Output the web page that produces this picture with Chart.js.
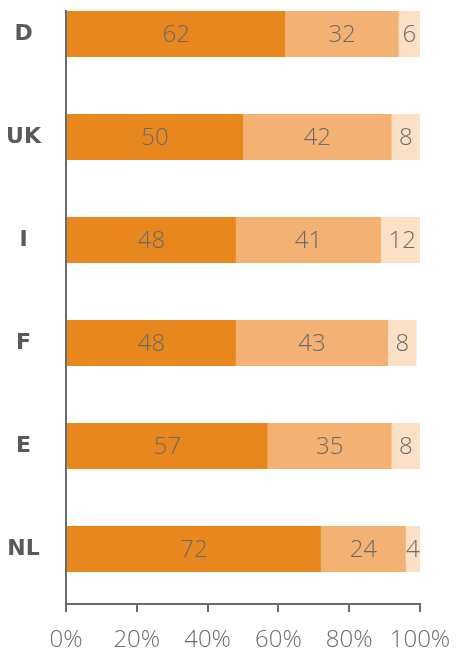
<!DOCTYPE html>
<html>
<head>
<meta charset="utf-8">
<script src="https://cdn.jsdelivr.net/npm/chart.js@4"></script>
<style>
html,body{margin:0;padding:0;background:#fff;}
#wrap{width:470px;height:651px;position:relative;}
</style>
</head>
<body>
<div id="wrap"><canvas id="c" width="470" height="651"></canvas></div>
<script>
const categories = ['D', 'UK', 'I', 'F', 'E', 'NL'];
const seriesA = [62, 50, 48, 48, 57, 72];
const seriesB = [32, 42, 41, 43, 35, 24];
const seriesC = [6, 8, 12, 8, 8, 4];
const xTicks = [0, 20, 40, 60, 80, 100];

const colors = ['#E8871E', '#F3B174', '#FCE0C5'];
const gray = '#6b6b6b';

function toPoints(arr) { return arr.map((v, i) => ({ x: v, y: i })); }

const labelPlugin = {
  id: 'valueLabels',
  afterDatasetsDraw(chart) {
    const ctx = chart.ctx;
    ctx.save();
    ctx.font = '300 24px "Open Sans"';
    ctx.fillStyle = gray;
    ctx.textAlign = 'center';
    ctx.textBaseline = 'middle';
    chart.data.datasets.forEach((ds, di) => {
      const meta = chart.getDatasetMeta(di);
      meta.data.forEach((el, i) => {
        const p = el.getCenterPoint();
        ctx.fillText(String(ds.data[i].x), p.x, p.y + 1);
      });
    });
    ctx.restore();
  }
};

new Chart(document.getElementById('c'), {
  type: 'bar',
  data: {
    datasets: [
      { data: toPoints(seriesA), backgroundColor: colors[0], stack: 's' },
      { data: toPoints(seriesB), backgroundColor: colors[1], stack: 's' },
      { data: toPoints(seriesC), backgroundColor: colors[2], stack: 's' }
    ]
  },
  options: {
    indexAxis: 'y',
    responsive: false,
    animation: false,
    layout: { padding: { top: 11, right: 50, bottom: 0, left: 0 } },
    datasets: { bar: { categoryPercentage: 1, barPercentage: 0.445, borderWidth: 0 } },
    plugins: { legend: { display: false }, tooltip: { enabled: false } },
    scales: {
      x: {
        type: 'linear',
        stacked: true,
        min: 0, max: 100,
        afterBuildTicks: s => { s.ticks = xTicks.map(v => ({ value: v })); },
        afterFit: s => { s.height = 47; s.paddingLeft = 0; s.paddingRight = 0; },
        ticks: {
          callback: v => v + '%',
          color: gray,
          font: { family: '"Open Sans"', size: 24, weight: '300', lineHeight: 1 },
          padding: 16,
          maxRotation: 0
        },
        grid: { display: true, drawOnChartArea: false, drawTicks: true, tickLength: 8, color: gray, lineWidth: 2 },
        border: { display: true, color: gray, width: 2 }
      },
      y: {
        type: 'linear',
        reverse: true,
        offset: false,
        min: -0.223, max: 5.534,
        afterBuildTicks: s => { s.ticks = categories.map((c, i) => ({ value: i })); },
        afterFit: s => { s.width = 66; s.paddingTop = 0; s.paddingBottom = 0; },
        ticks: {
          callback: v => categories[v],
          color: '#5a5a5a',
          font: { family: '"DejaVu Sans"', size: 22, weight: 'bold' },
          crossAlign: 'center',
          padding: 25
        },
        grid: { display: false, drawTicks: false, offset: false },
        border: { display: true, color: gray, width: 2 }
      }
    }
  },
  plugins: [labelPlugin]
});
</script>
</body>
</html>
